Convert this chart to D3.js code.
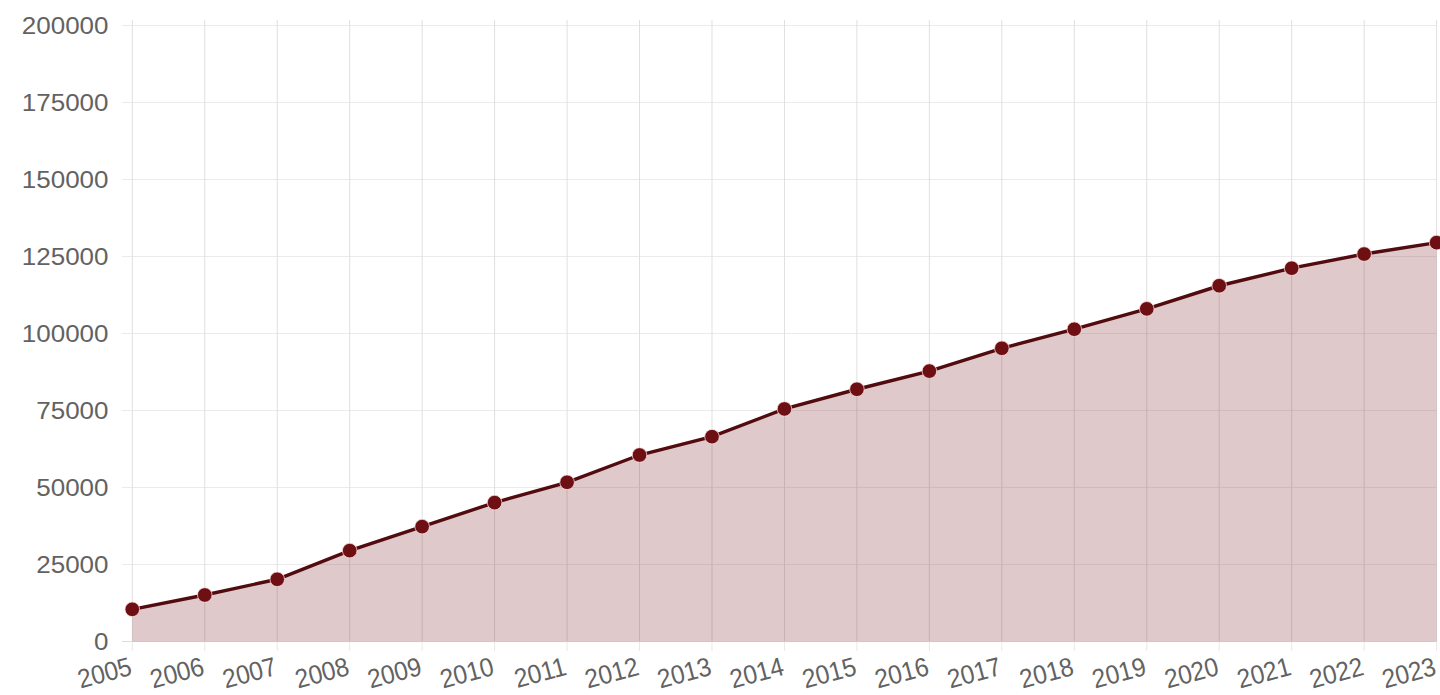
<!DOCTYPE html>
<html>
<head>
<meta charset="utf-8">
<script src="https://cdn.jsdelivr.net/npm/d3@7/dist/d3.min.js"></script>
<style>
  html, body { margin: 0; padding: 0; background: #ffffff; }
  svg { display: block; }
</style>
</head>
<body>
<svg id="chart" width="1440" height="695"></svg>
<script>
const years = ["2005","2006","2007","2008","2009","2010","2011","2012","2013","2014","2015","2016","2017","2018","2019","2020","2021","2022","2023"];
const values = [10450, 15100, 20200, 29500, 37300, 45100, 51700, 60550, 66500, 75500, 81900, 87800, 95200, 101400, 108000, 115500, 121200, 125800, 129500];
const yTicks = [0, 25000, 50000, 75000, 100000, 125000, 150000, 175000, 200000];

const svg = d3.select("#chart");
const plotLeft = 132.3, plotRight = 1436.6, plotTop = 25.5, plotBottom = 641.5;

const x = d3.scalePoint().domain(years).range([plotLeft, plotRight]);
const y = d3.scaleLinear().domain([0, 200000]).range([plotBottom, plotTop]);

const grid = svg.append("g");
// horizontal gridlines
grid.selectAll("line.h").data(yTicks).enter().append("line")
  .attr("x1", 122).attr("x2", plotRight)
  .attr("y1", d => y(d)).attr("y2", d => y(d))
  .attr("stroke", d => d === 0 ? "#dcdcdc" : "#ebebeb").attr("stroke-width", 1);
// vertical gridlines
grid.selectAll("line.v").data(years).enter().append("line")
  .attr("x1", d => x(d)).attr("x2", d => x(d))
  .attr("y1", 20).attr("y2", 651)
  .attr("stroke", "#e8e8e8").attr("stroke-width", 1);

// area
const area = d3.area().x((d, i) => x(years[i])).y0(y(0)).y1(d => y(d));
svg.append("path").datum(values).attr("d", area).attr("fill", "rgba(122,30,36,0.24)");

// gridlines over area faintly
svg.append("g").selectAll("line").data(years).enter().append("line")
  .attr("x1", d => x(d)).attr("x2", d => x(d))
  .attr("y1", 20).attr("y2", plotBottom)
  .attr("stroke", "rgba(0,0,0,0.035)").attr("stroke-width", 1);

// line
const line = d3.line().x((d, i) => x(years[i])).y(d => y(d));
svg.append("path").datum(values).attr("d", line)
  .attr("fill", "none").attr("stroke", "#520b0f").attr("stroke-width", 3.4);

// points
svg.append("g").selectAll("circle").data(values).enter().append("circle")
  .attr("cx", (d, i) => x(years[i])).attr("cy", d => y(d)).attr("r", 7.3)
  .attr("fill", "#6e0f13").attr("stroke", "rgba(255,225,225,0.75)").attr("stroke-width", 1);

// y labels
svg.append("g").selectAll("text").data(yTicks).enter().append("text")
  .attr("transform", d => `translate(108.5,${y(d)}) scale(1.13,1)`)
  .attr("text-anchor", "end").attr("dy", "0.36em")
  .attr("font-family", "'Liberation Sans', Arial, sans-serif").attr("font-size", 23)
  .attr("fill", "#626262").text(d => d);

// x labels
svg.append("g").selectAll("text").data(years).enter().append("text")
  .attr("transform", d => `translate(${x(d) - 4},656) rotate(-15) scale(1,1.08)`)
  .attr("text-anchor", "end").attr("dy", "0.72em")
  .attr("font-family", "'Liberation Sans', Arial, sans-serif").attr("font-size", 24.5)
  .attr("fill", "#626262").text(d => d);
</script>
</body>
</html>
